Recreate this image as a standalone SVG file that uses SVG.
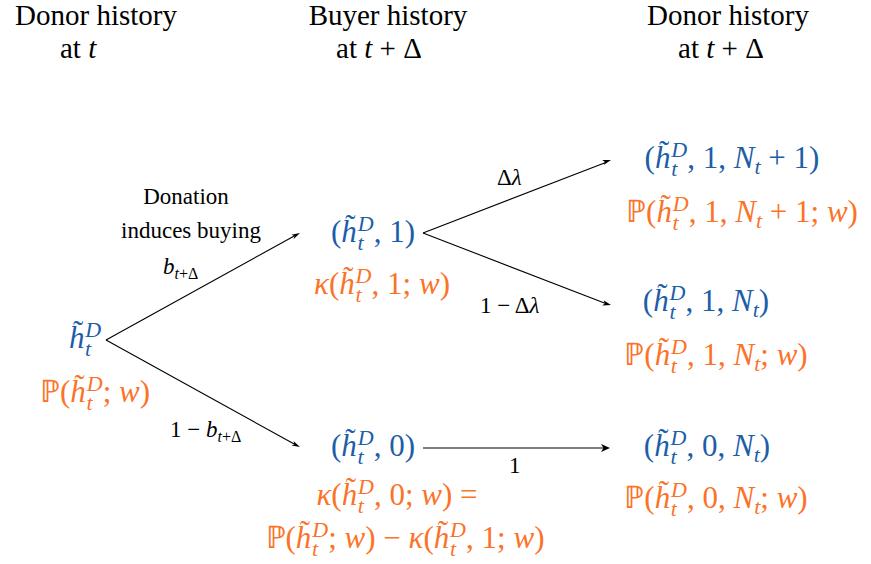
<svg xmlns="http://www.w3.org/2000/svg" width="871" height="564" viewBox="0 0 871 564">
<g id="headers" font-family="Liberation Serif" font-size="29" fill="#000">
<text text-anchor="middle" x="96" y="25">Donor history</text>
<text x="60" y="58">at <tspan font-style="italic">t</tspan></text>
<text text-anchor="middle" x="388" y="25">Buyer history</text>
<text text-anchor="middle" x="379" y="58">at <tspan font-style="italic">t</tspan> + Δ</text>
<text text-anchor="middle" x="728" y="25">Donor history</text>
<text text-anchor="middle" x="721" y="58">at <tspan font-style="italic">t</tspan> + Δ</text>
</g>
<g id="connectors">
<g stroke="#000" stroke-width="1.1" fill="none">
<line x1="106" y1="340" x2="296" y2="235"/>
<line x1="106" y1="340" x2="296" y2="445"/>
<line x1="423" y1="233" x2="607" y2="162"/>
<line x1="423" y1="233" x2="607" y2="304"/>
<line x1="423" y1="448" x2="606" y2="448"/>
</g>
<g fill="#000">
<polygon points="300,233 291.4,234.8 294.6,236 293.5,239.3"/>
<polygon points="300,447 293.5,441.1 294.6,444.4 291.4,445.6"/>
<polygon points="611,160 602.2,159.9 605,162 603.6,165.1"/>
<polygon points="611,305 603.6,300.3 605,303.4 602.2,305.4"/>
<polygon points="610,448 601,444 603.5,448 601,452"/>
</g>
<g font-family="Liberation Serif" font-size="23" fill="#000">
<text text-anchor="middle" x="186" y="204">Donation</text>
<text text-anchor="middle" x="191" y="238">induces buying</text>
<text x="163" y="274"><tspan font-style="italic">b</tspan><tspan font-size="16" dy="5"><tspan font-style="italic">t</tspan>+Δ</tspan></text>
<text x="170" y="437">1 − <tspan font-style="italic">b</tspan><tspan font-size="16" dy="5"><tspan font-style="italic">t</tspan>+Δ</tspan></text>
<text x="497" y="185">Δ<tspan font-style="italic">λ</tspan></text>
<text x="480" y="313">1 − Δ<tspan font-style="italic">λ</tspan></text>
<text x="509" y="473">1</text>
</g>
</g>
<g font-family="Liberation Serif" font-size="31" text-anchor="middle">
<g id="n-root" fill="#1c5ea8">
<text x="85" y="348"><tspan font-style="italic">h</tspan><tspan dx="-11.5" dy="-6">˜</tspan><tspan font-style="italic" font-size="22" dx="2" dy="-5">D</tspan><tspan font-style="italic" font-size="22" dx="-16" dy="19">t</tspan></text>
<text fill="#fb7328" x="95" y="402">ℙ(<tspan font-style="italic">h</tspan><tspan dx="-11.5" dy="-6">˜</tspan><tspan font-style="italic" font-size="22" dx="2" dy="-5">D</tspan><tspan font-style="italic" font-size="22" dx="-16" dy="19">t</tspan><tspan dx="10" dy="-8">; <tspan font-style="italic">w</tspan>)</tspan></text>
</g>
<g id="n-buy1" fill="#1c5ea8">
<text x="373" y="242">(<tspan font-style="italic">h</tspan><tspan dx="-11.5" dy="-6">˜</tspan><tspan font-style="italic" font-size="22" dx="2" dy="-5">D</tspan><tspan font-style="italic" font-size="22" dx="-16" dy="19">t</tspan><tspan dx="10" dy="-8">, 1)</tspan></text>
<text fill="#fb7328" x="382" y="294"><tspan font-style="italic">κ</tspan>(<tspan font-style="italic">h</tspan><tspan dx="-11.5" dy="-6">˜</tspan><tspan font-style="italic" font-size="22" dx="2" dy="-5">D</tspan><tspan font-style="italic" font-size="22" dx="-16" dy="19">t</tspan><tspan dx="10" dy="-8">, 1; <tspan font-style="italic">w</tspan>)</tspan></text>
</g>
<g id="n-buy0" fill="#1c5ea8">
<text x="373" y="456">(<tspan font-style="italic">h</tspan><tspan dx="-11.5" dy="-6">˜</tspan><tspan font-style="italic" font-size="22" dx="2" dy="-5">D</tspan><tspan font-style="italic" font-size="22" dx="-16" dy="19">t</tspan><tspan dx="10" dy="-8">, 0)</tspan></text>
<text fill="#fb7328" x="397" y="505"><tspan font-style="italic">κ</tspan>(<tspan font-style="italic">h</tspan><tspan dx="-11.5" dy="-6">˜</tspan><tspan font-style="italic" font-size="22" dx="2" dy="-5">D</tspan><tspan font-style="italic" font-size="22" dx="-16" dy="19">t</tspan><tspan dx="10" dy="-8">, 0; <tspan font-style="italic">w</tspan>) =</tspan></text>
<text fill="#fb7328" x="405" y="548">ℙ(<tspan font-style="italic">h</tspan><tspan dx="-11.5" dy="-6">˜</tspan><tspan font-style="italic" font-size="22" dx="2" dy="-5">D</tspan><tspan font-style="italic" font-size="22" dx="-16" dy="19">t</tspan><tspan dx="10" dy="-8">; <tspan font-style="italic">w</tspan>) − <tspan font-style="italic">κ</tspan>(<tspan font-style="italic">h</tspan></tspan><tspan dx="-11.5" dy="-6">˜</tspan><tspan font-style="italic" font-size="22" dx="2" dy="-5">D</tspan><tspan font-style="italic" font-size="22" dx="-16" dy="19">t</tspan><tspan dx="10" dy="-8">, 1; <tspan font-style="italic">w</tspan>)</tspan></text>
</g>
<g id="n-d1n1" fill="#1c5ea8">
<text x="732" y="168">(<tspan font-style="italic">h</tspan><tspan dx="-11.5" dy="-6">˜</tspan><tspan font-style="italic" font-size="22" dx="2" dy="-5">D</tspan><tspan font-style="italic" font-size="22" dx="-16" dy="19">t</tspan><tspan dx="10" dy="-8">, 1, <tspan font-style="italic">N</tspan><tspan font-style="italic" font-size="22" dy="6">t</tspan><tspan dy="-6"> + 1)</tspan></tspan></text>
<text fill="#fb7328" x="742" y="222">ℙ(<tspan font-style="italic">h</tspan><tspan dx="-11.5" dy="-6">˜</tspan><tspan font-style="italic" font-size="22" dx="2" dy="-5">D</tspan><tspan font-style="italic" font-size="22" dx="-16" dy="19">t</tspan><tspan dx="10" dy="-8">, 1, <tspan font-style="italic">N</tspan><tspan font-style="italic" font-size="22" dy="6">t</tspan><tspan dy="-6"> + 1; <tspan font-style="italic">w</tspan>)</tspan></tspan></text>
</g>
<g id="n-d1n" fill="#1c5ea8">
<text x="706" y="311">(<tspan font-style="italic">h</tspan><tspan dx="-11.5" dy="-6">˜</tspan><tspan font-style="italic" font-size="22" dx="2" dy="-5">D</tspan><tspan font-style="italic" font-size="22" dx="-16" dy="19">t</tspan><tspan dx="10" dy="-8">, 1, <tspan font-style="italic">N</tspan><tspan font-style="italic" font-size="22" dy="6">t</tspan><tspan dy="-6">)</tspan></tspan></text>
<text fill="#fb7328" x="716" y="365">ℙ(<tspan font-style="italic">h</tspan><tspan dx="-11.5" dy="-6">˜</tspan><tspan font-style="italic" font-size="22" dx="2" dy="-5">D</tspan><tspan font-style="italic" font-size="22" dx="-16" dy="19">t</tspan><tspan dx="10" dy="-8">, 1, <tspan font-style="italic">N</tspan><tspan font-style="italic" font-size="22" dy="6">t</tspan><tspan dy="-6">; <tspan font-style="italic">w</tspan>)</tspan></tspan></text>
</g>
<g id="n-d0n" fill="#1c5ea8">
<text x="707" y="456">(<tspan font-style="italic">h</tspan><tspan dx="-11.5" dy="-6">˜</tspan><tspan font-style="italic" font-size="22" dx="2" dy="-5">D</tspan><tspan font-style="italic" font-size="22" dx="-16" dy="19">t</tspan><tspan dx="10" dy="-8">, 0, <tspan font-style="italic">N</tspan><tspan font-style="italic" font-size="22" dy="6">t</tspan><tspan dy="-6">)</tspan></tspan></text>
<text fill="#fb7328" x="716" y="508">ℙ(<tspan font-style="italic">h</tspan><tspan dx="-11.5" dy="-6">˜</tspan><tspan font-style="italic" font-size="22" dx="2" dy="-5">D</tspan><tspan font-style="italic" font-size="22" dx="-16" dy="19">t</tspan><tspan dx="10" dy="-8">, 0, <tspan font-style="italic">N</tspan><tspan font-style="italic" font-size="22" dy="6">t</tspan><tspan dy="-6">; <tspan font-style="italic">w</tspan>)</tspan></tspan></text>
</g>
</g>
</svg>
